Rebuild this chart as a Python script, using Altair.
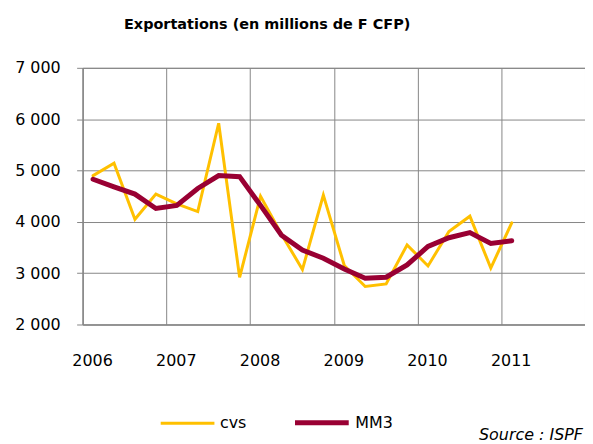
import altair as alt
import pandas as pd

title_text = "Exportations (en millions de F CFP)"
source_text = "Source : ISPF"

quarters = ["2006-T1", "2006-T2", "2006-T3", "2006-T4",
            "2007-T1", "2007-T2", "2007-T3", "2007-T4",
            "2008-T1", "2008-T2", "2008-T3", "2008-T4",
            "2009-T1", "2009-T2", "2009-T3", "2009-T4",
            "2010-T1", "2010-T2", "2010-T3", "2010-T4",
            "2011-T1"]
cvs = [4900, 5140, 4050, 4540, 4350, 4200, 5920, 2920, 4500, 3760, 3070,
       4520, 3150, 2740, 2790, 3550, 3140, 3810, 4110, 3100, 3980]
mm3 = [4830, 4680, 4540, 4260, 4320, 4650, 4900, 4880, 4320, 3740, 3450,
       3290, 3080, 2900, 2920, 3160, 3520, 3690, 3790, 3580, 3630]

series_names = ["cvs", "MM3"]
series_colors = ["#FFC000", "#990033"]
series_widths = [3, 5]
year_ticks = [2006, 2007, 2008, 2009, 2010, 2011]
y_ticks = [2000, 3000, 4000, 5000, 6000, 7000]


def qpos(q):
    y, t = q.split("-T")
    return int(y) + (int(t) - 0.5) / 4


rows = []
for q, a, b in zip(quarters, cvs, mm3):
    rows.append({"quarter": q, "t": qpos(q), "series": "cvs", "value": a})
    rows.append({"quarter": q, "t": qpos(q), "series": "MM3", "value": b})
df = pd.DataFrame(rows)

GRID = "#868686"
FONT = "DejaVu Sans"

x_enc = alt.X(
    "t:Q",
    scale=alt.Scale(domain=[2006, 2012], nice=False, zero=False),
    axis=alt.Axis(values=year_ticks, format="d", grid=True, ticks=False,
                  tickSize=0, labelPadding=28, labelOffset=9.5, title=None,
                  labelFlush=False, labelOverlap=False),
)
y_enc = alt.Y(
    "value:Q",
    scale=alt.Scale(domain=[2000, 7000], nice=False, zero=False),
    axis=alt.Axis(values=y_ticks, grid=True, ticks=True, tickSize=6,
                  labelPadding=16.5, title=None,
                  labelExpr="replace(format(datum.value, ','), ',', ' ')"),
)
color_enc = alt.Color("series:N",
                      scale=alt.Scale(domain=series_names, range=series_colors),
                      legend=alt.Legend(title=None))
width_enc = alt.StrokeWidth("series:N",
                            scale=alt.Scale(domain=series_names, range=series_widths),
                            legend=alt.Legend(title=None))

base = alt.Chart(df).encode(x=x_enc, y=y_enc, color=color_enc, strokeWidth=width_enc)

line_cvs = base.transform_filter(alt.datum.series == "cvs").mark_line(strokeCap="round")
line_mm3 = base.transform_filter(alt.datum.series == "MM3").mark_line(strokeCap="round")

src = alt.Chart(pd.DataFrame({"label": [source_text]})).mark_text(
    align="right", baseline="alphabetic", font=FONT, fontStyle="italic",
    fontSize=16, color="black"
).encode(x=alt.value(503), y=alt.value(374), text="label:N")

chart = alt.layer(line_cvs, line_mm3, src).properties(
    width=505,
    height=258,
    title=alt.TitleParams(text=title_text, font=FONT, fontSize=14.5,
                          fontWeight="bold", anchor="middle", frame="group",
                          dx=-67, dy=-24, color="black"),
    padding={"left": 75, "top": 59, "right": 0, "bottom": 119},
    autosize=alt.AutoSizeParams(type="none"),
).configure_view(
    stroke=GRID, strokeWidth=1
).configure_axis(
    gridColor=GRID, gridWidth=1, domainColor=GRID, domainWidth=1,
    tickColor=GRID, tickWidth=1, labelFont=FONT, labelFontSize=16,
    labelColor="black"
).configure_legend(
    orient="none", legendX=77, legendY=327, direction="horizontal",
    symbolType="stroke", symbolSize=2916, labelFont=FONT, labelFontSize=16,
    labelColor="black", labelOffset=4, columnPadding=38, padding=0
)

chart.save("out.html", embed_options={"renderer": "svg", "actions": False})
